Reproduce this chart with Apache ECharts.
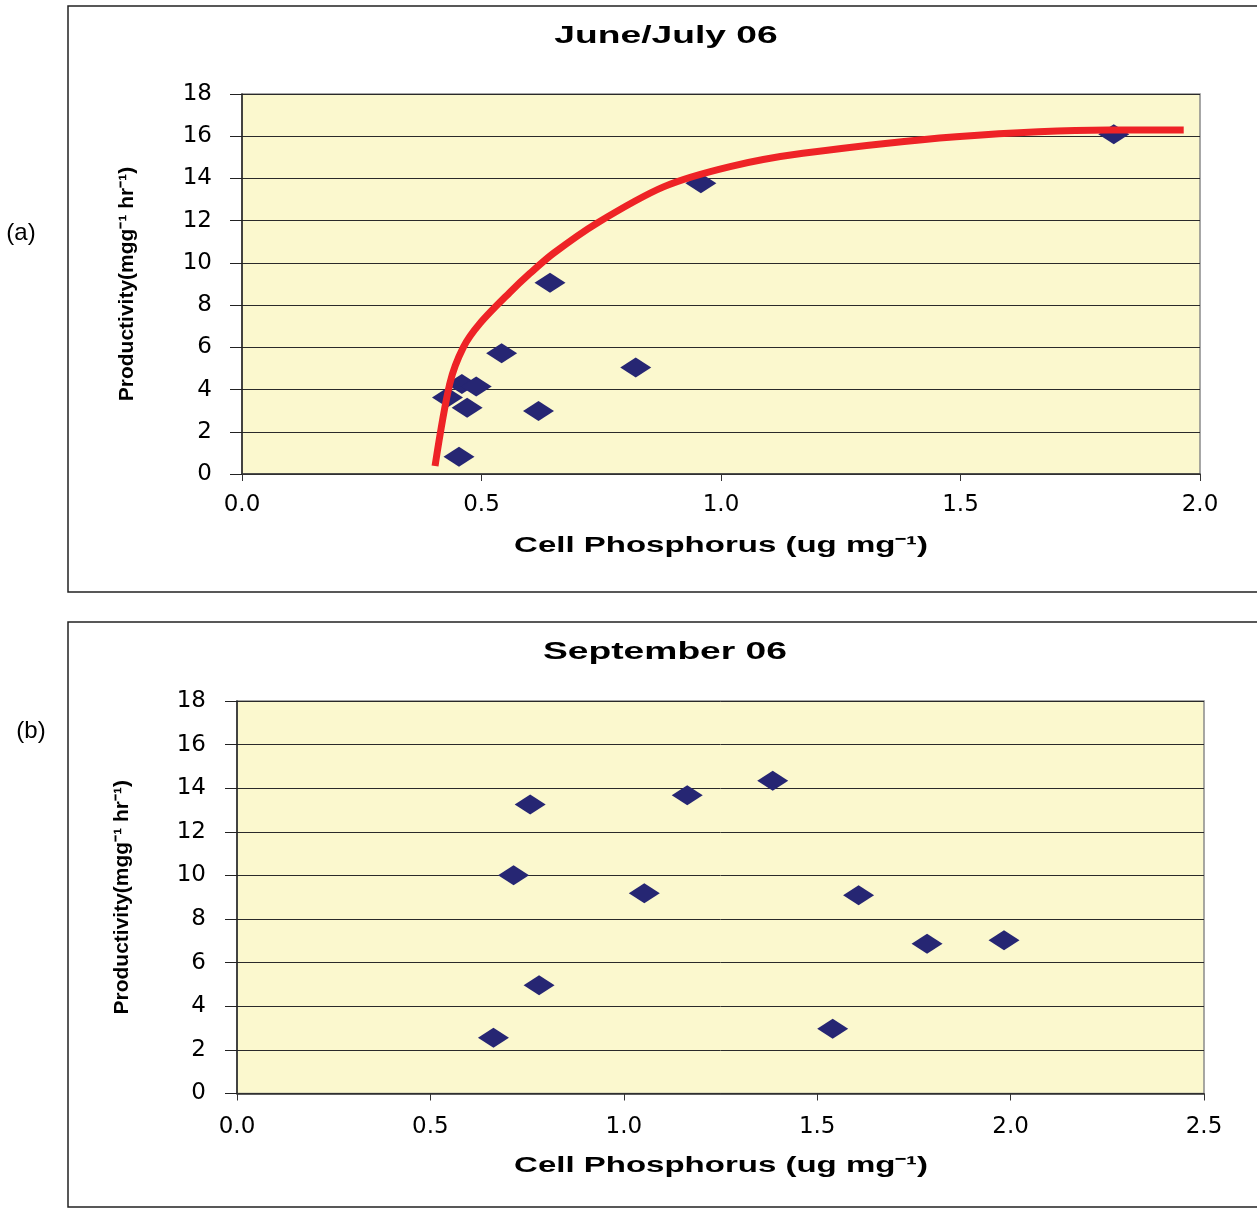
<!DOCTYPE html>
<html>
<head>
<meta charset="utf-8">
<script src="https://cdn.jsdelivr.net/npm/echarts@6/dist/echarts.min.js"></script>
<style>html,body{margin:0;padding:0;background:#fff;}#c{width:1257px;height:1209px;}</style>
</head>
<body>
<div id="c"></div>
<script>
// Panel (a) June/July 06 : observed points [cell P, productivity]
const juneX = [0.643, 0.542, 0.822, 0.459, 0.489, 0.429, 0.470, 0.619, 0.453, 0.958, 1.820];
const juneY = [9.06, 5.72, 5.04, 4.26, 4.14, 3.62, 3.14, 2.98, 0.82, 13.77, 16.09];
// Panel (a) fitted curve
const fitX = [0.403, 0.434, 0.462, 0.497, 0.559, 0.601, 0.650, 0.740, 0.880, 1.019, 1.171, 1.491, 1.810, 1.966];
const fitY = [0.38, 4.3, 6.0, 7.14, 8.6, 9.5, 10.45, 11.87, 13.6, 14.56, 15.19, 15.98, 16.3, 16.3];
// Panel (b) September 06
const septX = [0.758, 1.164, 1.385, 0.715, 1.053, 1.607, 0.781, 0.663, 1.540, 1.784, 1.983];
const septY = [13.25, 13.68, 14.34, 10.01, 9.18, 9.09, 4.96, 2.56, 2.97, 6.87, 7.03];
// Axis ticks
const yTicks = [0, 2, 4, 6, 8, 10, 12, 14, 16, 18];
const xTicksA = [0.0, 0.5, 1.0, 1.5, 2.0];
const xTicksB = [0.0, 0.5, 1.0, 1.5, 2.0, 2.5];

const titles = ['June/July 06', 'September 06'];
const panelLabels = ['(a)', '(b)'];
const xName = 'Cell Phosphorus (ug mg\u207B\u00B9)';
const yName = 'Productivity(mgg\u207B\u00B9 hr\u207B\u00B9)';

const zip = (a, b) => a.map((v, i) => [v, b[i]]);

const tickFont = { fontFamily: 'DejaVu Sans', fontSize: 23, color: '#000' };

function xAxisCfg(gi, ticks, margin) {
  return {
    type: 'value', gridIndex: gi, min: ticks[0], max: ticks[ticks.length - 1], interval: 0.5,
    axisLine: { show: true, lineStyle: { color: '#333', width: 1.5 } },
    axisTick: { show: true, inside: false, length: 7, lineStyle: { color: '#333' } },
    axisLabel: Object.assign({ margin: margin, formatter: v => v.toFixed(1) }, tickFont),
    splitLine: { show: false }
  };
}
function yAxisCfg(gi, margin) {
  return {
    type: 'value', gridIndex: gi, min: yTicks[0], max: yTicks[yTicks.length - 1], interval: 2,
    name: yName, nameLocation: 'middle', nameRotate: 90, nameGap: 104,
    nameTextStyle: { fontFamily: 'Liberation Sans', fontWeight: 'bold', fontSize: 21, color: '#000' },
    axisLine: { show: true, lineStyle: { color: '#222', width: 1.5 } },
    axisTick: { show: true, inside: false, length: 12, lineStyle: { color: '#222' } },
    axisLabel: Object.assign({ margin: margin }, tickFont),
    splitLine: { show: true, lineStyle: { color: '#2a2a2a', width: 1 } }
  };
}

const chart = echarts.init(document.getElementById('c'), null, { renderer: 'canvas' });

const scaledText = (x, y, txt, size, sx) => ({
  type: 'text', x: x, y: y, scaleX: sx, silent: true, z: 10,
  style: { text: txt, font: 'bold ' + size + 'px "Liberation Sans", Arial, sans-serif', fill: '#000',
           align: 'center', verticalAlign: 'middle' }
});

chart.setOption({
  animation: false,
  backgroundColor: '#fff',
  grid: [
    { left: 242, top: 94, width: 958, height: 380, show: true, backgroundColor: '#FBF8CE', borderColor: '#8a8a8a', borderWidth: 1.5 },
    { left: 237, top: 701, width: 967, height: 392.5, show: true, backgroundColor: '#FBF8CE', borderColor: '#8a8a8a', borderWidth: 1.5 }
  ],
  xAxis: [xAxisCfg(0, xTicksA, 20), xAxisCfg(1, xTicksB, 22)],
  yAxis: [yAxisCfg(0, 30), yAxisCfg(1, 31)],
  graphic: [
    { type: 'rect', silent: true, shape: { x: 68, y: 6, width: 1300, height: 586 }, style: { fill: 'none', stroke: '#222', lineWidth: 1.5 } },
    { type: 'rect', silent: true, shape: { x: 68, y: 622, width: 1300, height: 585 }, style: { fill: 'none', stroke: '#222', lineWidth: 1.5 } },
    scaledText(666, 36, titles[0], 24, 1.55),
    scaledText(665, 652, titles[1], 24, 1.55),
    scaledText(721, 546, xName, 22, 1.5),
    scaledText(721, 1166, xName, 22, 1.5),
    { type: 'text', x: 21, y: 233, silent: true, style: { text: panelLabels[0], font: '24px "Liberation Sans", Arial, sans-serif', fill: '#000', align: 'center', verticalAlign: 'middle' } },
    { type: 'text', x: 31, y: 731, silent: true, style: { text: panelLabels[1], font: '24px "Liberation Sans", Arial, sans-serif', fill: '#000', align: 'center', verticalAlign: 'middle' } }
  ],
  series: [
    {
      type: 'scatter', xAxisIndex: 0, yAxisIndex: 0, data: zip(juneX, juneY),
      symbol: 'diamond', symbolSize: [31, 20], itemStyle: { color: '#262673', opacity: 1 }, z: 2
    },
    {
      type: 'line', xAxisIndex: 0, yAxisIndex: 0, data: zip(fitX, fitY),
      smooth: 0.3, symbol: 'none', lineStyle: { color: '#EE2326', width: 7 }, z: 3
    },
    {
      type: 'scatter', xAxisIndex: 1, yAxisIndex: 1, data: zip(septX, septY),
      symbol: 'diamond', symbolSize: [31, 20], itemStyle: { color: '#262673', opacity: 1 }, z: 2
    }
  ]
});
</script>
</body>
</html>
